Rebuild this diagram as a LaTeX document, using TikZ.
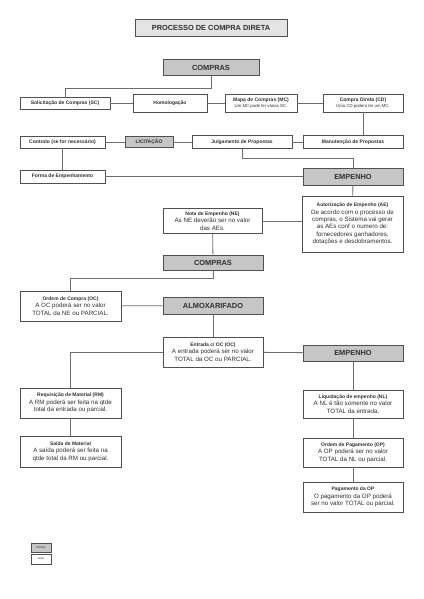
\documentclass[tikz,border=0pt]{standalone}
\usepackage{fontspec}
\setmainfont{Liberation Sans}
\usetikzlibrary{positioning}
\definecolor{ModGray}{HTML}{C6C6C6}
\definecolor{TitGray}{HTML}{E4E4E4}
\definecolor{EdgeGray}{HTML}{505050}
\definecolor{LineGray}{HTML}{6E6E6E}
\definecolor{TextGray}{HTML}{303030}
\newcommand{\cab}[1]{{\bfseries\fontsize{5}{7.4}\selectfont #1}}

\begin{document}
\begin{tikzpicture}[
  x=1pt,y=-1pt,
  acao/.style={draw=EdgeGray,line width=0.6pt,fill=white,inner sep=0pt,align=center,text=TextGray,font=\fontsize{6.2}{7.4}\selectfont},
  acaop/.style={acao,font=\bfseries\fontsize{5}{6}\selectfont},
  modulo/.style={draw=EdgeGray,line width=1pt,fill=ModGray,inner sep=0pt,text=TextGray,font=\bfseries\fontsize{7.4}{8}\selectfont},
  titulo/.style={draw=EdgeGray,line width=0.6pt,fill=TitGray,inner sep=0pt,text=TextGray,font=\bfseries\fontsize{7.4}{8}\selectfont},
  linha/.style={draw=LineGray,line width=0.8pt}
]
  \fill[white] (0,0) rectangle (423,599);
  \useasboundingbox (0,0) rectangle (423,599);

  \node[titulo, minimum width=152pt, minimum height=17pt] (titulo) at (211,27.5) {PROCESSO DE COMPRA DIRETA};

  % compras
  \node[modulo, minimum width=96pt, minimum height=16pt] (compras) at (211,68) {COMPRAS};
  \node[acaop, minimum width=90pt, minimum height=12pt] (sc) at (65,103) {Solicitação de Compras (SC)};
  \node[acaop, minimum width=74pt, minimum height=18pt] (homol) at (170,103) {Homologação};
  \node[acao, minimum width=72pt, minimum height=18pt] (mc) at (261,103)
    {\cab{Mapa de Compras (MC)}\\[-2pt]{\fontsize{4.3}{5}\selectfont Um MC pode ter várias SC.}};
  \node[acao, minimum width=80pt, minimum height=18pt] (cd) at (363,103)
    {\cab{Compra Direta (CD)}\\[-2pt]{\fontsize{4.3}{5}\selectfont Uma CD poderá ter um MC.}};

  \node[acaop, minimum width=85pt, minimum height=12pt] (contrato) at (62.5,142) {Contrato (se for necessário)};
  \node[modulo, line width=0.8pt, minimum width=48pt, minimum height=11pt, font=\bfseries\fontsize{5}{6}\selectfont] (licit) at (149,142) {LICITAÇÃO};
  \node[acaop, minimum width=100pt, minimum height=13pt] (julg) at (242,142) {Julgamento de Propostas};
  \node[acaop, minimum width=100pt, minimum height=13pt] (manut) at (353,142) {Manutenção de Propostas};
  \node[acaop, minimum width=85pt, minimum height=13pt] (forma) at (62.5,176.5) {Forma de Empenhamento};

  % empenho
  \node[modulo, minimum width=100pt, minimum height=17pt] (empenho) at (353,176.5) {EMPENHO};
  \node[acao, minimum width=101pt, minimum height=56pt] (ae) at (352.5,224)
    {\cab{Autorização de Empenho (AE)}\\De acordo com o processo de\\compras, o Sistema vai gerar\\as AEs conf o numero de:\\fornecedores ganhadores,\\dotações e desdobramentos.};
  \node[acao, minimum width=99pt, minimum height=25pt] (ne) at (212.5,221)
    {\cab{Nota de Empenho (NE)}\\As NE deverão ser no valor\\das AEs.};

  \node[modulo, minimum width=100pt, minimum height=15pt] (compras2) at (213,262.5) {COMPRAS};
  \node[acao, minimum width=101pt, minimum height=30pt] (oc) at (70.5,306)
    {\cab{Ordem de Compra (OC)}\\A OC poderá ser no valor\\TOTAL da NE ou PARCIAL.};

  % almoxarifado
  \node[modulo, minimum width=100pt, minimum height=17pt] (almox) at (213,305.5) {ALMOXARIFADO};
  \node[acao, minimum width=100pt, minimum height=30pt] (entrada) at (213,352)
    {\cab{Entrada c/ OC (OC)}\\A entrada poderá ser no valor\\TOTAL da OC ou PARCIAL.};
  \node[acao, minimum width=101pt, minimum height=30pt] (rm) at (70.5,403)
    {\cab{Requisição de Material (RM)}\\A RM poderá ser feita na qtde\\total da entrada ou parcial.};
  \node[acao, minimum width=101pt, minimum height=31pt] (saida) at (70.5,451.5)
    {\cab{Saída de Material}\\A saída poderá ser feita na\\qtde total da RM ou parcial.};

  \node[modulo, minimum width=100pt, minimum height=16pt] (empenho2) at (353,353) {EMPENHO};
  \node[acao, minimum width=100pt, minimum height=28pt] (nl) at (353,404)
    {\cab{Liquidação de empenho (NL)}\\A NL é tão somente no valor\\TOTAL da entrada.};
  \node[acao, minimum width=100pt, minimum height=29pt] (op) at (353,452.5)
    {\cab{Ordem de Pagamento (OP)}\\A OP poderá ser no valor\\TOTAL da NL ou parcial.};
  \node[acao, minimum width=100pt, minimum height=30pt] (pag) at (353,497)
    {\cab{Pagamento da OP}\\O pagamento da OP poderá\\ser no valor TOTAL ou parcial.};

  % legenda
  \node[modulo, line width=0.8pt, minimum width=20pt, minimum height=9pt, font=\fontsize{2.8}{3}\selectfont] (legmod) at (41,547.5) {Módulo};
  \node[acao, minimum width=20pt, minimum height=10pt, font=\fontsize{2.8}{3}\selectfont] (legacao) at (41,559) {Ação};

  % ligacoes
  \draw[linha] (compras.south) -- ++(0,12) -| (sc.north);
  \draw[linha] (sc) -- (homol);
  \draw[linha] (homol) -- (mc);
  \draw[linha] (mc) -- (cd);
  \draw[linha] (cd.south) -- (cd.south |- manut.north);
  \draw[linha] (contrato) -- (licit);
  \draw[linha] (licit) -- (julg);
  \draw[linha] (julg) -- (manut);
  \draw[linha] (contrato) -- (forma);
  \draw[linha] (julg.south) -- ++(0,10) -| (empenho.north);
  \draw[linha] (forma) -- (empenho);
  \draw[linha] (empenho) -- (ae);
  \draw[linha] (ne.east) -- (ne.east -| ae.west);
  \draw[linha] (ne) -- (compras2);
  \draw[linha] (compras2.south) -- ++(0,8) -| (oc.north);
  \draw[linha] (oc) -- (almox);
  \draw[linha] (almox) -- (entrada);
  \draw[linha] (entrada) -- (empenho2);
  \draw[linha] (entrada.west) -| (rm.north);
  \draw[linha] (rm) -- (saida);
  \draw[linha] (empenho2) -- (nl);
  \draw[linha] (nl) -- (op);
  \draw[linha] (op) -- (pag);
\end{tikzpicture}
\end{document}
